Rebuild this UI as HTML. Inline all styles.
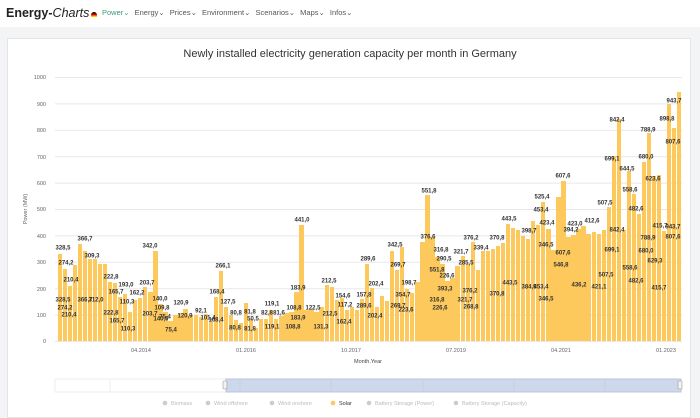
<!DOCTYPE html>
<html><head><meta charset="utf-8"><style>
*{margin:0;padding:0;box-sizing:border-box}
body{width:700px;height:417px;overflow:hidden;background:#f3f4f5;font-family:"Liberation Sans",sans-serif;position:relative}
.nav{position:absolute;left:0;top:0;width:700px;height:27px;background:#fff}
.logo{position:absolute;left:6px;top:6px;font-size:12.5px;font-weight:bold;color:#222}
.logo i{font-weight:normal;color:#222}
.menu{position:absolute;left:102px;top:8px;font-size:7.5px;color:#555;word-spacing:3px}
.menu .g{color:#3a9a7a}
.card{position:absolute;left:7px;top:38px;width:684px;height:380px;background:#fff;border:1px solid #e4e4e4}
.bars{position:absolute;left:57.5px;top:77px;width:624px;height:264px;display:grid;grid-template-columns:repeat(124,1fr);column-gap:0.7px;align-items:end}
.bars div{background:#fec95c}
</style></head><body>
<div class="nav"><div class="logo">Energy-<i>Charts</i><span style="display:inline-block;width:6px;height:5px;margin-left:2px;background:linear-gradient(#000 33%,#d00 33% 66%,#fc0 66%);border-radius:3px 3px 0 0"></span></div>
<div class="menu"><span class="g">Power&#8964;</span> Energy&#8964; Prices&#8964; Environment&#8964; Scenarios&#8964; Maps&#8964; Infos&#8964;</div></div>
<div class="card"></div>
<svg style="position:absolute;left:0;top:0" width="700" height="417">
<text x="350" y="57" text-anchor="middle" font-size="11" fill="#333">Newly installed electricity generation capacity per month in Germany</text>
<g stroke="#e8e8e8" stroke-width="1">
<line x1="55" x2="682" y1="77.5" y2="77.5"/><line x1="55" x2="682" y1="103.9" y2="103.9"/><line x1="55" x2="682" y1="130.3" y2="130.3"/><line x1="55" x2="682" y1="156.7" y2="156.7"/><line x1="55" x2="682" y1="183.1" y2="183.1"/><line x1="55" x2="682" y1="209.5" y2="209.5"/><line x1="55" x2="682" y1="235.9" y2="235.9"/><line x1="55" x2="682" y1="262.3" y2="262.3"/><line x1="55" x2="682" y1="288.7" y2="288.7"/><line x1="55" x2="682" y1="315.1" y2="315.1"/><line x1="55" x2="682" y1="341.5" y2="341.5"/>
</g>
<g font-size="5.5" fill="#666" text-anchor="end">
<text x="46" y="79">1000</text><text x="46" y="106">900</text><text x="46" y="132">800</text><text x="46" y="159">700</text><text x="46" y="185">600</text><text x="46" y="211">500</text><text x="46" y="238">400</text><text x="46" y="264">300</text><text x="46" y="291">200</text><text x="46" y="317">100</text><text x="46" y="343">0</text>
</g>
<text transform="translate(27,209) rotate(-90)" font-size="5.5" fill="#666" text-anchor="middle">Power (MW)</text>
<g font-size="5.5" fill="#666" text-anchor="middle">
<text x="141" y="352">04.2014</text><text x="246" y="352">01.2016</text><text x="351" y="352">10.2017</text><text x="456" y="352">07.2019</text><text x="561" y="352">04.2021</text><text x="666" y="352">01.2023</text>
<text x="368" y="363" fill="#444">Month.Year</text>
</g>
<rect x="55" y="379" width="626" height="13" fill="#fff" stroke="#eee"/>
<line x1="110" x2="110" y1="379" y2="392" stroke="#eee"/>
<rect x="226" y="379" width="455" height="13" fill="#ced8ec" stroke="#b8c4dc"/>
<g stroke="#c8d0e0"><line x1="240" x2="240" y1="379" y2="392"/><line x1="331" x2="331" y1="379" y2="392"/><line x1="423" x2="423" y1="379" y2="392"/><line x1="514" x2="514" y1="379" y2="392"/><line x1="605" x2="605" y1="379" y2="392"/></g>
<rect x="223" y="381" width="4" height="8" rx="1" fill="#f2f2f2" stroke="#999" stroke-width=".6"/>
<rect x="678" y="381" width="4" height="8" rx="1" fill="#f2f2f2" stroke="#999" stroke-width=".6"/>
<g font-size="5.5" fill="#bbb">
<circle cx="165" cy="403" r="2.3" fill="#ccc"/><text x="171" y="405">Biomass</text>
<circle cx="208" cy="403" r="2.3" fill="#ccc"/><text x="214" y="405">Wind offshore</text>
<circle cx="272" cy="403" r="2.3" fill="#ccc"/><text x="278" y="405">Wind onshore</text>
<circle cx="333" cy="403" r="2.3" fill="#fec95c"/><text x="339" y="405" fill="#333">Solar</text>
<circle cx="369" cy="403" r="2.3" fill="#ccc"/><text x="375" y="405">Battery Storage (Power)</text>
<circle cx="456" cy="403" r="2.3" fill="#ccc"/><text x="462" y="405">Battery Storage (Capacity)</text>
</g>
</svg>
<div class="bars">
<div style="height:86.6px"></div><div style="height:72.3px"></div><div style="height:55.4px"></div><div style="height:75.8px"></div><div style="height:96.9px"></div><div style="height:90.3px"></div><div style="height:81.6px"></div><div style="height:82.4px"></div><div style="height:76.6px"></div><div style="height:77.1px"></div><div style="height:58.9px"></div><div style="height:58.1px"></div><div style="height:43.8px"></div><div style="height:47.5px"></div><div style="height:29.0px"></div><div style="height:40.9px"></div><div style="height:42.8px"></div><div style="height:53.6px"></div><div style="height:49.4px"></div><div style="height:90.3px"></div><div style="height:37.0px"></div><div style="height:29.0px"></div><div style="height:19.8px"></div><div style="height:26.4px"></div><div style="height:27.7px"></div><div style="height:31.9px"></div><div style="height:25.6px"></div><div style="height:25.9px"></div><div style="height:24.3px"></div><div style="height:26.7px"></div><div style="height:19.8px"></div><div style="height:44.4px"></div><div style="height:70.2px"></div><div style="height:33.8px"></div><div style="height:26.4px"></div><div style="height:21.4px"></div><div style="height:18.5px"></div><div style="height:38.3px"></div><div style="height:21.6px"></div><div style="height:13.2px"></div><div style="height:21.6px"></div><div style="height:21.6px"></div><div style="height:31.4px"></div><div style="height:21.6px"></div><div style="height:25.1px"></div><div style="height:27.7px"></div><div style="height:28.8px"></div><div style="height:48.6px"></div><div style="height:116.4px"></div><div style="height:30.6px"></div><div style="height:32.2px"></div><div style="height:29.0px"></div><div style="height:34.3px"></div><div style="height:56.0px"></div><div style="height:54.1px"></div><div style="height:40.9px"></div><div style="height:42.8px"></div><div style="height:30.9px"></div><div style="height:34.3px"></div><div style="height:30.6px"></div><div style="height:41.7px"></div><div style="height:76.6px"></div><div style="height:53.3px"></div><div style="height:34.3px"></div><div style="height:44.9px"></div><div style="height:40.1px"></div><div style="height:90.4px"></div><div style="height:71.3px"></div><div style="height:93.7px"></div><div style="height:52.5px"></div><div style="height:48.3px"></div><div style="height:58.9px"></div><div style="height:99.5px"></div><div style="height:145.7px"></div><div style="height:103.8px"></div><div style="height:83.7px"></div><div style="height:76.6px"></div><div style="height:59.9px"></div><div style="height:63.4px"></div><div style="height:75.2px"></div><div style="height:85.0px"></div><div style="height:76.6px"></div><div style="height:99.3px"></div><div style="height:71.0px"></div><div style="height:89.6px"></div><div style="height:89.6px"></div><div style="height:92.4px"></div><div style="height:95.0px"></div><div style="height:97.9px"></div><div style="height:117.1px"></div><div style="height:113.5px"></div><div style="height:110.9px"></div><div style="height:105.3px"></div><div style="height:101.6px"></div><div style="height:119.7px"></div><div style="height:116.2px"></div><div style="height:138.7px"></div><div style="height:111.7px"></div><div style="height:91.5px"></div><div style="height:144.4px"></div><div style="height:160.4px"></div><div style="height:104.0px"></div><div style="height:105.6px"></div><div style="height:111.7px"></div><div style="height:115.2px"></div><div style="height:106.9px"></div><div style="height:108.8px"></div><div style="height:106.9px"></div><div style="height:111.2px"></div><div style="height:134.0px"></div><div style="height:184.6px"></div><div style="height:222.4px"></div><div style="height:110.9px"></div><div style="height:170.1px"></div><div style="height:147.5px"></div><div style="height:127.4px"></div><div style="height:179.5px"></div><div style="height:208.3px"></div><div style="height:164.7px"></div><div style="height:166.1px"></div><div style="height:109.8px"></div><div style="height:237.3px"></div><div style="height:213.3px"></div><div style="height:249.2px"></div>
</div>
<svg style="position:absolute;left:0;top:0" width="700" height="417">
<g font-size="6" font-weight="bold" fill="#333" text-anchor="middle" dominant-baseline="middle">
<text x="63" y="248">328,5</text><text x="66" y="263">274,2</text><text x="71" y="280">210,4</text><text x="85" y="239">366,7</text><text x="92" y="256">309,3</text><text x="111" y="277">222,8</text><text x="116" y="292">165,7</text><text x="126" y="285">193,0</text><text x="127" y="302">110,3</text><text x="147" y="283">203,7</text><text x="137" y="293">162,2</text><text x="150" y="246">342,0</text><text x="160" y="299">140,0</text><text x="162" y="308">109,8</text><text x="165" y="317">75,4</text><text x="181" y="303">120,9</text><text x="201" y="311">92,1</text>
<text x="63" y="300">328,5</text><text x="65" y="308">274,2</text><text x="69" y="315">210,4</text><text x="85" y="300">366,7</text><text x="96" y="300">312,0</text><text x="111" y="313">222,8</text><text x="117" y="321">165,7</text><text x="128" y="329">110,3</text><text x="150" y="314">203,7</text><text x="161" y="319">140,0</text><text x="171" y="330">75,4</text><text x="185" y="316">120,9</text><text x="208" y="318">101,4</text>
<text x="223" y="266">266,1</text><text x="217" y="292">168,4</text><text x="228" y="302">127,5</text><text x="236" y="313">80,8</text><text x="250" y="312">81,8</text><text x="253" y="319">50,5</text><text x="267" y="313">82,8</text><text x="272" y="304">119,1</text><text x="279" y="313">81,6</text><text x="294" y="308">108,8</text><text x="298" y="288">183,9</text><text x="302" y="220">441,0</text><text x="313" y="308">122,5</text><text x="329" y="281">212,5</text><text x="343" y="296">154,6</text><text x="345" y="305">117,2</text>
<text x="216" y="320">168,4</text><text x="235" y="328">80,8</text><text x="250" y="329">81,8</text><text x="272" y="327">119,1</text><text x="293" y="327">108,8</text><text x="298" y="318">183,9</text><text x="330" y="314">212,5</text><text x="321" y="327">131,3</text><text x="344" y="322">162,4</text>
<text x="368" y="259">289,6</text><text x="364" y="295">157,8</text><text x="376" y="284">202,4</text><text x="364" y="306">289,6</text><text x="375" y="316">202,4</text><text x="395" y="245">342,5</text><text x="398" y="265">269,7</text><text x="409" y="283">198,7</text><text x="403" y="295">354,7</text><text x="398" y="306">269,7</text><text x="406" y="310">223,6</text><text x="428" y="237">376,6</text><text x="429" y="191">551,8</text><text x="441" y="250">316,8</text><text x="444" y="259">290,5</text><text x="447" y="276">226,6</text><text x="437" y="270">551,8</text><text x="445" y="289">393,3</text><text x="437" y="300">316,8</text><text x="440" y="308">226,6</text><text x="461" y="252">321,7</text><text x="466" y="263">285,5</text><text x="471" y="238">376,2</text><text x="481" y="248">339,4</text><text x="470" y="291">376,2</text><text x="465" y="300">321,7</text><text x="471" y="307">268,8</text><text x="497" y="238">370,8</text><text x="509" y="219">443,5</text><text x="510" y="283">443,5</text><text x="497" y="294">370,8</text><text x="529" y="231">398,7</text>
<text x="541" y="210">453,4</text><text x="542" y="197">525,4</text><text x="547" y="223">423,4</text><text x="546" y="245">346,5</text><text x="529" y="287">384,9</text><text x="541" y="287">453,4</text><text x="546" y="299">346,5</text><text x="563" y="176">607,6</text><text x="561" y="265">546,8</text><text x="563" y="253">607,6</text><text x="571" y="230">394,2</text><text x="575" y="224">423,0</text><text x="592" y="221">412,6</text><text x="579" y="285">436,2</text><text x="605" y="203">507,5</text><text x="612" y="159">699,1</text><text x="617" y="120">842,4</text><text x="617" y="230">842,4</text><text x="612" y="250">699,1</text><text x="606" y="275">507,5</text><text x="599" y="287">421,1</text><text x="627" y="169">644,5</text><text x="630" y="190">558,6</text><text x="636" y="209">482,6</text><text x="630" y="268">558,6</text><text x="636" y="281">482,6</text><text x="646" y="157">680,0</text><text x="648" y="130">788,9</text><text x="653" y="179">623,6</text><text x="648" y="238">788,9</text><text x="646" y="251">680,0</text><text x="655" y="261">629,3</text><text x="660" y="226">415,7</text><text x="659" y="288">415,7</text><text x="667" y="119">898,8</text><text x="673" y="142">807,6</text><text x="674" y="101">943,7</text><text x="673" y="227">943,7</text><text x="673" y="237">807,6</text>
</g></svg>
</body></html>
